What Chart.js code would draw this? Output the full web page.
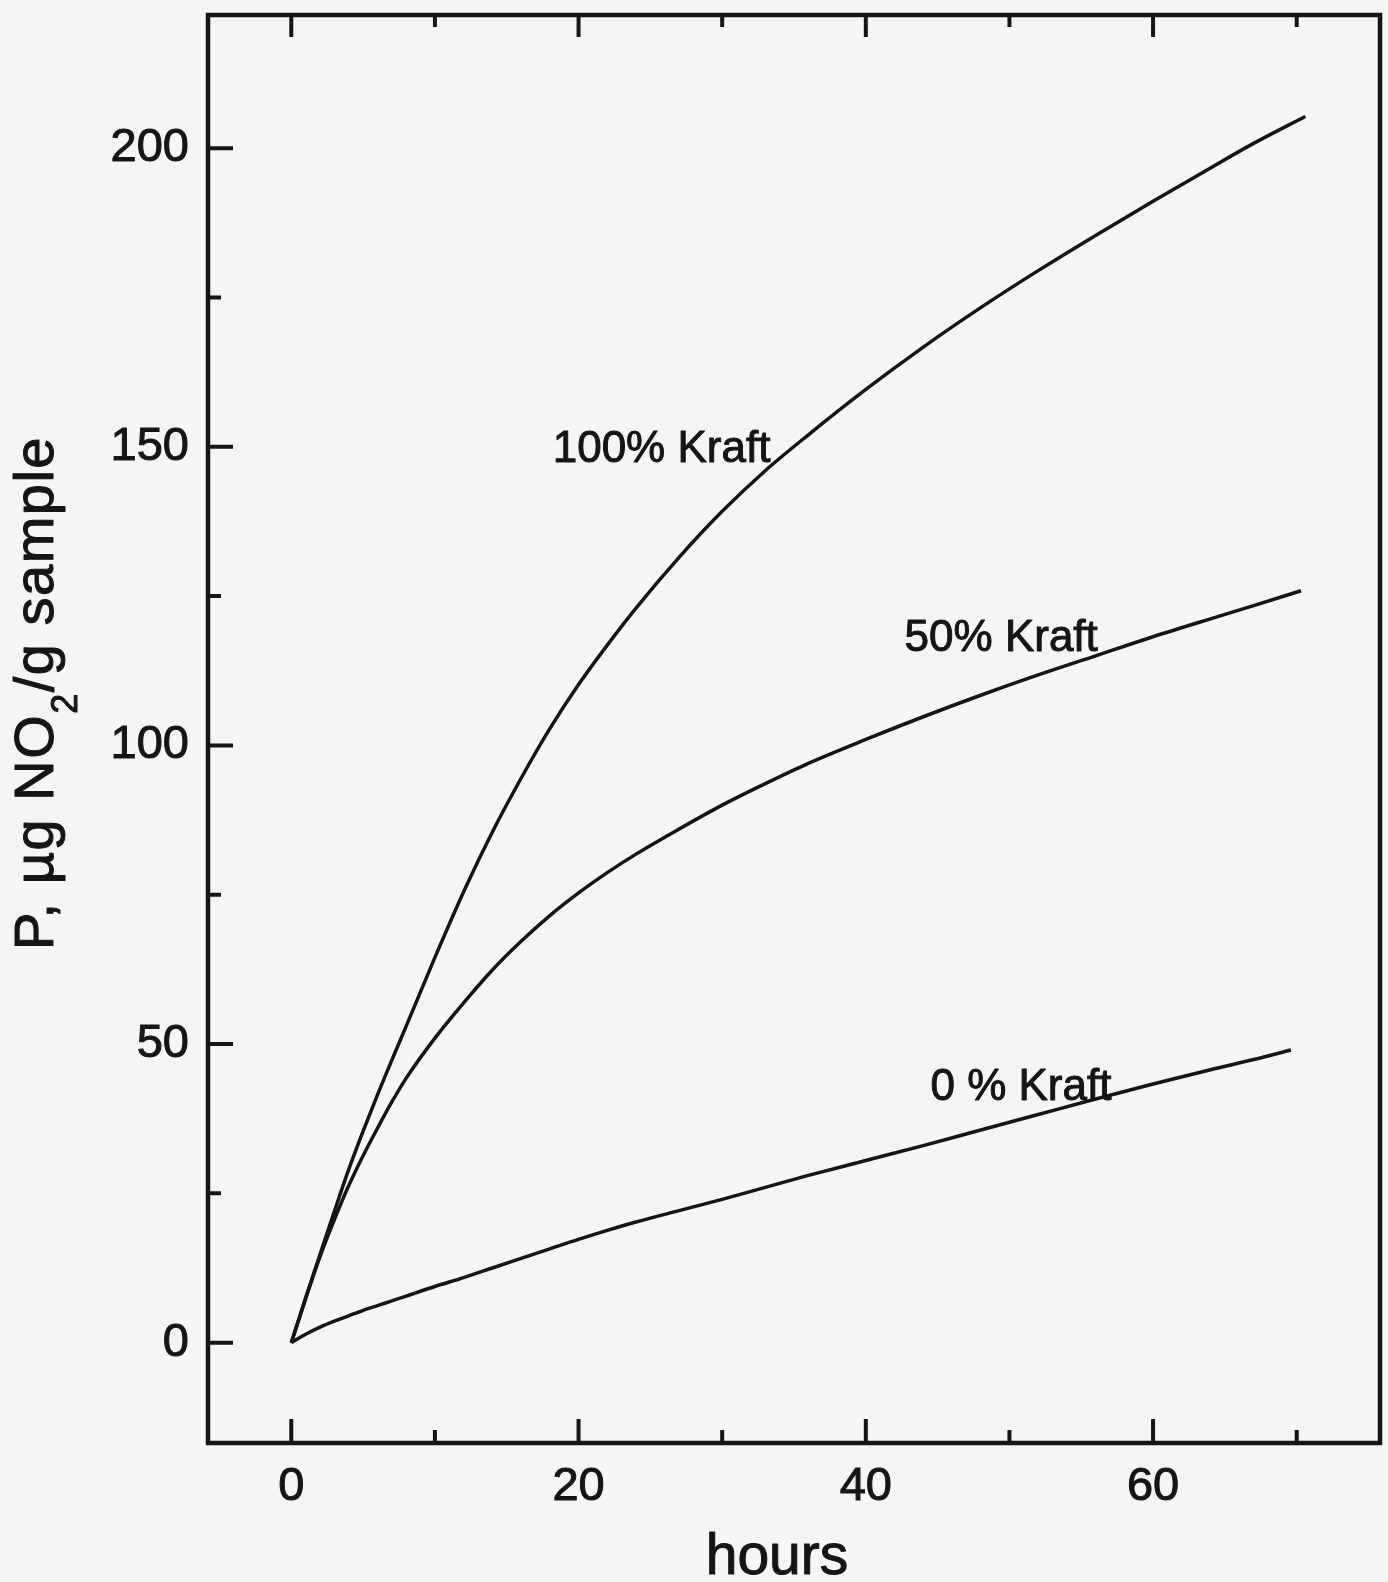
<!DOCTYPE html>
<html>
<head>
<meta charset="utf-8">
<script src="https://cdn.jsdelivr.net/npm/chart.js@4.4.1/dist/chart.umd.min.js"></script>
<style>
  html, body { margin: 0; padding: 0; background: #f5f5f4; }
  canvas { display: block; }
</style>
</head>
<body>
<canvas id="chart" width="1388" height="1582"></canvas>
<script>
// P (µg NO2 / g sample) against exposure time in hours, one pair of arrays per blend
const hours100 = [0, 1, 2, 3, 4, 5, 6, 7, 8, 10, 12, 14, 16, 18, 20, 22, 24, 27, 30, 33, 36, 40, 44, 48, 52, 56, 60, 64, 67, 70.6];
const kraft100 = [0, 7.5, 14.8, 22.0, 29.0, 35.4, 41.5, 47.3, 53.0, 64.5, 75.5, 85.5, 94.5, 102.8, 110.2, 116.8, 123.0, 131.5, 139.2, 146.0, 152.0, 159.6, 166.7, 173.3, 179.5, 185.4, 191.1, 196.7, 200.8, 205.3];

const hours50 = [0, 1, 2, 3, 4, 5, 6, 7, 8, 10, 12, 14, 16, 18, 20, 22, 24, 27, 30, 33, 36, 40, 44, 48, 52, 56, 60, 64, 67, 70.3];
const kraft50 = [0, 7.4, 14.4, 20.6, 26.3, 31.3, 35.9, 40.3, 44.3, 51.0, 56.9, 62.4, 67.2, 71.5, 75.3, 78.7, 81.8, 86.0, 90.0, 93.6, 97.0, 101.0, 104.8, 108.4, 111.8, 115.0, 118.2, 121.2, 123.4, 125.9];

const hours0 = [0, 1, 2, 3, 4, 5, 6, 7, 8, 10, 12, 14, 16, 18, 20, 22, 24, 27, 30, 33, 36, 40, 44, 48, 52, 56, 60, 64, 67, 69.6];
const kraft0 = [0, 1.4, 2.6, 3.6, 4.5, 5.4, 6.2, 7.0, 7.8, 9.4, 10.9, 12.5, 14.1, 15.7, 17.3, 18.8, 20.2, 22.1, 24.0, 26.0, 28.0, 30.5, 33.0, 35.6, 38.2, 40.8, 43.3, 45.7, 47.4, 49.0];

const curveNames = ['100% Kraft', '50% Kraft', '0 % Kraft'];
const xTickLabels = [0, 20, 40, 60];
const yTickLabels = [0, 50, 100, 150, 200];

// where each curve name sits (left end of the text baseline, in data units)
const nameAnchors = [[18.2, 147.5], [42.7, 115.8], [44.5, 40.6]];

const ink = '#151515';
const family = '"Liberation Sans", Arial, sans-serif';

function toPoints(xs, ys) {
  return xs.map((x, i) => ({ x: x, y: ys[i] }));
}

function curve(label, xs, ys) {
  return {
    label: label,
    data: toPoints(xs, ys),
    showLine: true,
    borderColor: ink,
    borderWidth: 3.5,
    pointRadius: 0,
    cubicInterpolationMode: 'monotone',
    fill: false
  };
}

// fill plus a thin outline so the lettering has the same weight as the tick labels
function heavyText(ctx, text, px, py) {
  ctx.fillText(text, px, py);
  ctx.strokeText(text, px, py);
}

// frame, inward tick marks, axis titles and curve names
const decorations = {
  id: 'decorations',
  afterDraw(chart) {
    const ctx = chart.ctx;
    const a = chart.chartArea;
    const x = chart.scales.x;
    const y = chart.scales.y;

    ctx.save();
    ctx.strokeStyle = ink;
    ctx.lineCap = 'butt';
    ctx.lineWidth = 4;
    ctx.beginPath();
    x.ticks.forEach(t => {
      const px = x.getPixelForValue(t.value);
      const major = xTickLabels.includes(t.value);
      ctx.moveTo(px, a.bottom);
      ctx.lineTo(px, a.bottom - (major ? 24 : 13));
      ctx.moveTo(px, a.top);
      ctx.lineTo(px, a.top + (major ? 22 : 12));
    });
    y.ticks.forEach(t => {
      const py = y.getPixelForValue(t.value);
      const major = yTickLabels.includes(t.value);
      ctx.moveTo(a.left, py);
      ctx.lineTo(a.left + (major ? 25 : 13), py);
    });
    ctx.stroke();

    ctx.lineWidth = 4.5;
    ctx.strokeRect(a.left, a.top, a.right - a.left, a.bottom - a.top);

    // curve names
    ctx.fillStyle = ink;
    ctx.lineWidth = 1;
    ctx.lineJoin = 'round';
    ctx.font = '44px ' + family;
    ctx.textAlign = 'left';
    ctx.textBaseline = 'alphabetic';
    curveNames.forEach((name, i) => {
      const [hx, hy] = nameAnchors[i];
      heavyText(ctx, name, x.getPixelForValue(hx), y.getPixelForValue(hy));
    });

    // x title
    ctx.font = '57px ' + family;
    ctx.textAlign = 'center';
    heavyText(ctx, 'hours', 777, 1574);

    // y title with subscript 2
    const mainFont = '56px ' + family;
    const subFont = '36px ' + family;
    const parts = [['P, µg NO', mainFont, 0], ['2', subFont, 24], ['/g sample', mainFont, 0]];
    ctx.letterSpacing = '1.5px';
    let total = 0;
    parts.forEach(p => { ctx.font = p[1]; total += ctx.measureText(p[0]).width; });
    ctx.translate(53, 693);
    ctx.rotate(-Math.PI / 2);
    ctx.textAlign = 'left';
    let cx = -total / 2;
    parts.forEach(p => {
      ctx.font = p[1];
      heavyText(ctx, p[0], cx, p[2]);
      cx += ctx.measureText(p[0]).width;
    });
    ctx.restore();
  }
};

new Chart(document.getElementById('chart'), {
  type: 'scatter',
  data: {
    datasets: [
      curve(curveNames[0], hours100, kraft100),
      curve(curveNames[1], hours50, kraft50),
      curve(curveNames[2], hours0, kraft0)
    ]
  },
  options: {
    responsive: false,
    animation: false,
    devicePixelRatio: 1,
    layout: { padding: { top: 15, right: 8, left: 0, bottom: 0 } },
    plugins: {
      legend: { display: false },
      tooltip: { enabled: false }
    },
    scales: {
      x: {
        type: 'linear',
        min: -5.8,
        max: 75.8,
        grid: { display: false, drawTicks: false },
        border: { display: false },
        ticks: {
          stepSize: 10,
          includeBounds: false,
          autoSkip: false,
          maxRotation: 0,
          padding: 16,
          color: ink,
          textStrokeColor: ink,
          textStrokeWidth: 1,
          font: { family: family, size: 47 },
          callback: v => xTickLabels.includes(v) ? String(v) : ''
        },
        afterFit(scale) {
          scale.height = 139;
          scale.paddingLeft = 0;
          scale.paddingRight = 0;
        }
      },
      y: {
        type: 'linear',
        min: -16.8,
        max: 222.3,
        grid: { display: false, drawTicks: false },
        border: { display: false },
        ticks: {
          stepSize: 25,
          includeBounds: false,
          autoSkip: false,
          padding: 19,
          color: ink,
          textStrokeColor: ink,
          textStrokeWidth: 1,
          font: { family: family, size: 47 },
          callback: v => yTickLabels.includes(v) ? String(v) : ''
        },
        afterFit(scale) {
          scale.width = 208;
          scale.paddingTop = 0;
          scale.paddingBottom = 0;
        }
      }
    }
  },
  plugins: [decorations]
});
</script>
</body>
</html>
